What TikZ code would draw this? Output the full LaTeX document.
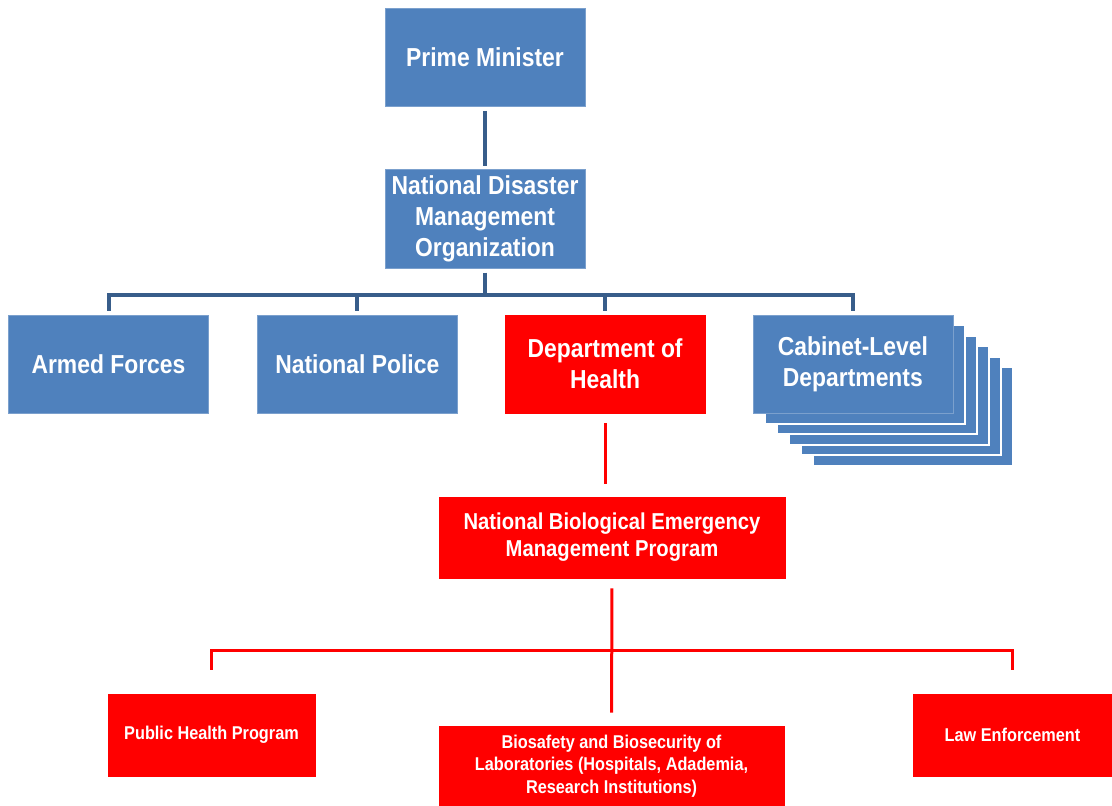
\documentclass[tikz,border=0pt]{standalone}
\usepackage{fontspec}
\setmainfont{Liberation Sans}[FakeStretch=0.88]
\usetikzlibrary{positioning, calc, backgrounds}
\definecolor{boxblue}{HTML}{4F81BD}
\definecolor{lineblue}{HTML}{385D8A}
\definecolor{boxred}{HTML}{FF0000}

\begin{document}
\begin{tikzpicture} [x=1pt,y=1pt,
	bluebox/.style={fill=boxblue,draw=boxblue!75!white,line width=0.8pt,text=white,align=center,
		minimum width=200pt,minimum height=98pt,inner sep=0pt,font=\fontsize{26}{31}\selectfont\bfseries},
	redbox/.style={bluebox,fill=boxred,draw=boxred},
	smallred/.style={redbox,font=\fontsize{18.5}{22.5}\selectfont\bfseries},
	blueline/.style={draw=lineblue,line width=4pt},
	redline/.style={draw=boxred,line width=3pt}]
	\useasboundingbox (0,0) rectangle (1112,-806);
	\node [bluebox] (pm) at (485,-57.5) {Prime Minister};
	\node [bluebox,minimum height=99pt,below=62pt of pm] (ndmo) {National Disaster\\Management\\Organization};
	\node [bluebox] (armed) at (108.5,-364) {Armed Forces};
	\node [bluebox,right=48pt of armed] (police) {National Police};
	\node [redbox,right=47pt of police] (doh) {Department of\\Health};
	\node [bluebox,right=47pt of doh] (cab) {Cabinet-Level\\Departments};
	\node [redbox,minimum width=346pt,minimum height=81pt,font=\fontsize{23}{27}\selectfont\bfseries] (nbemp) at (612,-537.5) {National Biological Emergency\\Management Program};
	\node [smallred,minimum width=207pt,minimum height=82pt] (php) at (211.5,-735) {Public Health Program};
	\node [smallred,minimum width=345pt,minimum height=80pt] (bio) at (611.5,-766) {Biosafety and Biosecurity of\\Laboratories (Hospitals, Adademia,\\Research Institutions)};
	\node [smallred,minimum width=199pt,minimum height=82pt] (law) at (1012.5,-735) {Law Enforcement};
	\begin{pgfonlayer}{background}
	\foreach \i in {5,...,1}
		\draw [fill=boxblue,draw=white,line width=2pt] ($(cab.south west)+(\i*12,-\i*10.5)$) rectangle ($(cab.north east)+(\i*12,-\i*10.5)$);
	\end{pgfonlayer}
	% blue tree
	\coordinate (bar) at ($(ndmo.south)+(0,-26)$);
	\draw [blueline,shorten <=4pt,shorten >=3pt] (pm.south) -- (ndmo.north);
	\draw [blueline,shorten <=4pt] (ndmo.south) -- (bar);
	\draw [blueline,line cap=rect] (armed.north |- bar) -- (cab.north |- bar);
	\foreach \n in {armed,police,doh,cab}
		\draw [blueline,shorten <=4pt] (\n.north) -- (\n.north |- bar);
	% red tree
	\coordinate (redbar) at ($(nbemp.south)+(0,-72)$);
	\draw [redline,shorten <=10pt,shorten >=13pt] (doh.south) -- (doh.south |- nbemp.north);
	\draw [redline,shorten <=10pt,shorten >=13pt] (nbemp.south) -- (bio.north);
	\draw [redline,line cap=rect] (php.north |- redbar) -- (law.north |- redbar);
	\foreach \n in {php,law}
		\draw [redline,shorten <=24pt] (\n.north) -- (\n.north |- redbar);
\end{tikzpicture}
\end{document}
